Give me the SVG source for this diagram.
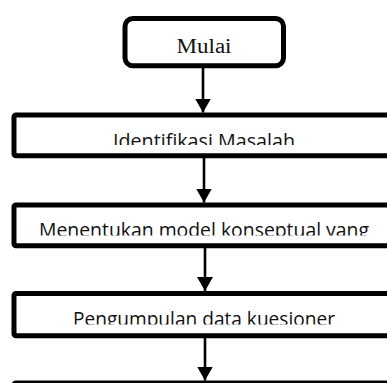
<svg xmlns="http://www.w3.org/2000/svg" width="387" height="383" viewBox="0 0 387 383">
<style>
.box{fill:#fff;stroke:#000;stroke-width:5}
.lbl{font-family:"Open Sans","Noto Sans",sans-serif;font-size:19.5px;fill:#111;text-anchor:middle}
.ser{font-family:"Liberation Serif",serif;font-size:20px;fill:#111;text-anchor:middle}
.con{stroke:#000;stroke-width:2.6;fill:none}
</style>
<defs>
<marker id="ah" viewBox="0 0 14 16" refX="14" refY="8" markerWidth="14" markerHeight="16" markerUnits="userSpaceOnUse" orient="auto">
<path d="M0,0 L14,8 L0,16 z" fill="#000"/>
</marker>
<clipPath id="c1"><rect x="0" y="118" width="387" height="27"/></clipPath>
<clipPath id="c2"><rect x="0" y="208" width="387" height="27.5"/></clipPath>
<clipPath id="c3"><rect x="0" y="296" width="387" height="28.5"/></clipPath>
</defs>
<g id="connectors">
<line class="con" x1="203" y1="68" x2="203" y2="112.5" marker-end="url(#ah)"/>
<line class="con" x1="204" y1="158" x2="204" y2="202.5" marker-end="url(#ah)"/>
<line class="con" x1="205" y1="248" x2="205" y2="291" marker-end="url(#ah)"/>
<line class="con" x1="205" y1="338" x2="205" y2="380.5" marker-end="url(#ah)"/>
</g>
<g id="start">
<rect class="box" x="125" y="18.5" width="158.5" height="47.3" rx="8"/>
<text class="ser" x="204" y="53" textLength="55" lengthAdjust="spacingAndGlyphs">Mulai</text>
</g>
<g id="n1">
<rect class="box" x="14" y="115" width="390" height="40.8" rx="2"/>
<text class="lbl" x="204" y="147.5" textLength="182" lengthAdjust="spacingAndGlyphs" clip-path="url(#c1)">Identifikasi Masalah</text>
</g>
<g id="n2">
<rect class="box" x="14" y="205" width="390" height="40.8" rx="2"/>
<text class="lbl" x="204" y="237" textLength="330" lengthAdjust="spacingAndGlyphs" clip-path="url(#c2)">Menentukan model konseptual yang</text>
</g>
<g id="n3">
<rect class="box" x="14" y="293.5" width="390" height="42.3" rx="2"/>
<text class="lbl" x="204" y="326" textLength="262" lengthAdjust="spacingAndGlyphs" clip-path="url(#c3)">Pengumpulan data kuesioner</text>
</g>
<g id="n4">
<rect class="box" x="14" y="383" width="390" height="42" rx="2"/>
</g>
</svg>
